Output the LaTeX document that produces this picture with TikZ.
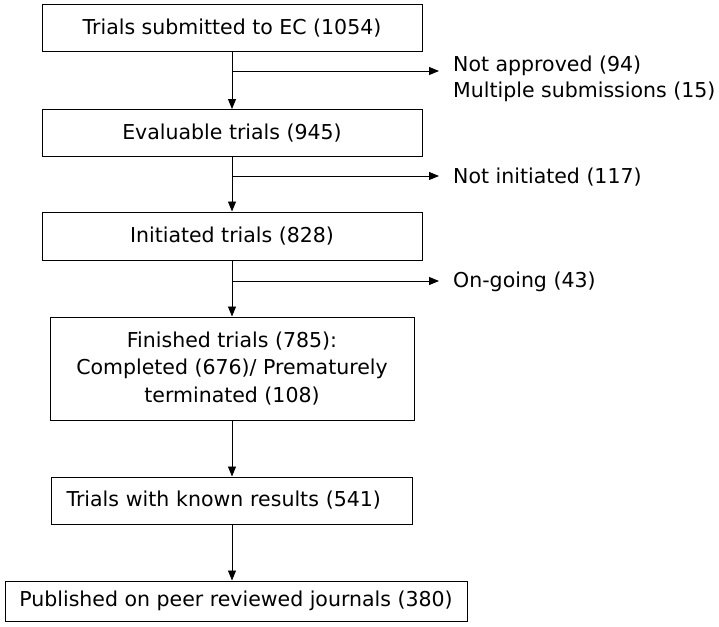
\documentclass[tikz,border=0pt]{standalone}
\usepackage{fontspec}
\setmainfont{DejaVu Sans}
\usetikzlibrary{arrows.meta}

\begin{document}
\begin{tikzpicture}[x=1pt, y=-1pt,
    box/.style={draw, line width=1pt, inner sep=0pt, align=center,
      font=\fontsize{20.5}{27.5}\selectfont},
    side/.style={anchor=west, inner sep=0pt, align=left,
      font=\fontsize{20.5}{26}\selectfont},
    flow/.style={-{Triangle[length=10pt, width=8pt]}, line width=0.9pt}]
    \useasboundingbox (0,0) rectangle (719,626);

    % Main boxes
    \node[box, minimum width=380pt, minimum height=47pt] (b1) at (232,28) {Trials submitted to EC (1054)};
    \node[box, minimum width=380pt, minimum height=47pt] (b2) at (232,133) {Evaluable trials (945)};
    \node[box, minimum width=380pt, minimum height=48pt] (b3) at (232,236) {Initiated trials (828)};
    \node[box, minimum width=364pt, minimum height=103pt] (b4) at (232,368.5)
      {Finished trials (785):\\ Completed (676)/ Prematurely\\ terminated (108)};
    \node[box, minimum width=361pt, minimum height=47pt, text width=331pt, inner xsep=15pt, align=left] (b5) at (232,500.5)
      {Trials with known results (541)};
    \node[box, minimum width=462pt, minimum height=40pt] (b6) at (236,601) {Published on peer reviewed journals (380)};

    % Excluded trials
    \node[side] (n1) at (453,79) {Not approved (94)\\ Multiple submissions (15)};
    \node[side] (n2) at (453,177) {Not initiated (117)};
    \node[side] (n3) at (453,282) {On-going (43)};

    \coordinate (s1) at (232,71);
    \coordinate (s2) at (232,176);
    \coordinate (s3) at (232,281);
    \coordinate (e1) at (439,71);
    \coordinate (e2) at (439,176);
    \coordinate (e3) at (439,281);

    \draw[flow] (b1) -- (b2);
    \draw[flow] (b2) -- (b3);
    \draw[flow] (b3) -- (b4);
    \draw[flow] (b4) -- (b5);
    \draw[flow] (b5) -- (b5 |- b6.north);

    \draw[flow] (s1) -- (e1);
    \draw[flow] (s2) -- (e2);
    \draw[flow] (s3) -- (e3);
\end{tikzpicture}
\end{document}
